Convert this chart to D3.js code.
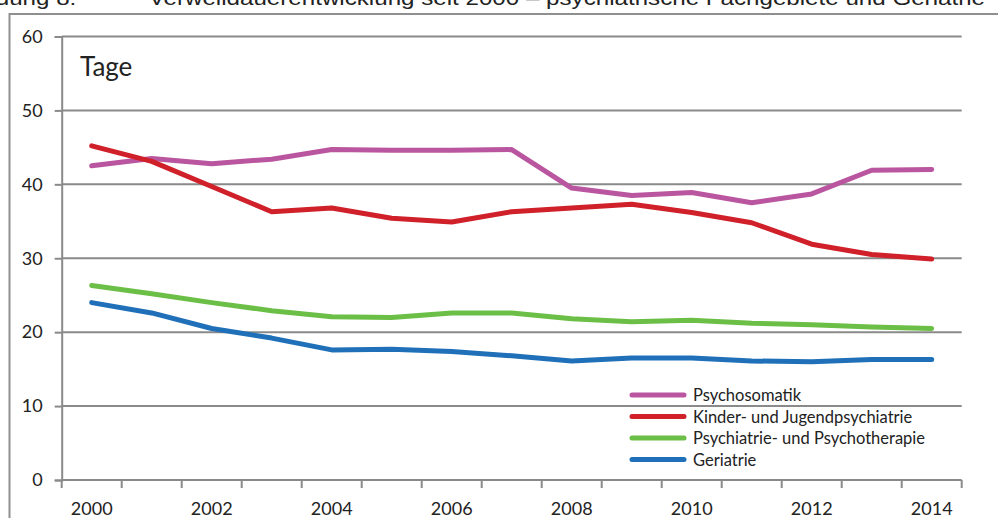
<!DOCTYPE html>
<html><head><meta charset="utf-8">
<script src="https://cdn.jsdelivr.net/npm/d3@7"></script>
<style>
html,body{margin:0;padding:0;background:#fff;}
svg{display:block;}
</style></head>
<body>
<svg id="c" width="998" height="518"></svg>
<script>
const years = [2000,2001,2002,2003,2004,2005,2006,2007,2008,2009,2010,2011,2012,2013,2014];
const tickLabels = ["2000","2002","2004","2006","2008","2010","2012","2014"];
const yTicks = [0,10,20,30,40,50,60];
const seriesNames = ["Psychosomatik","Kinder- und Jugendpsychiatrie","Psychiatrie- und Psychotherapie","Geriatrie"];
const seriesColors = ["#BA559F","#D0202A","#6CBF46","#1F70B8"];
const psychosomatik = [42.5,43.5,42.8,43.4,44.7,44.6,44.6,44.7,39.5,38.5,38.9,37.5,38.7,41.9,42.0];
const kinderJugend = [45.2,43.1,39.7,36.3,36.8,35.4,34.9,36.3,36.8,37.3,36.2,34.8,31.9,30.5,29.9];
const psychiatrie = [26.3,25.2,24.0,22.9,22.1,22.0,22.6,22.6,21.8,21.4,21.6,21.2,21.0,20.7,20.5];
const geriatrie = [24.0,22.6,20.5,19.2,17.6,17.7,17.4,16.8,16.1,16.5,16.5,16.1,16.0,16.3,16.3];
const seriesValues = [psychosomatik,kinderJugend,psychiatrie,geriatrie];
const titleText = "Abbildung 8:\u2003\u2003\u2003Verweildauerentwicklung seit 2000 \u2013 psychiatrische Fachgebiete und Geriatrie";
const unitLabel = "Tage";

const svg = d3.select("#c");
const font = "Lato, 'Open Sans', sans-serif";
const L = 61.7, R = 961.7, T = 36.5, B = 480;
const grid = "#8a8a8a";

// Title (cut at top) and frame
svg.append("text").attr("x",-58).attr("y",5).attr("font-family","'Liberation Sans', Arial, sans-serif")
  .attr("font-size",20).attr("fill","#222").attr("textLength",1043).attr("lengthAdjust","spacingAndGlyphs").text(titleText);
svg.append("line").attr("x1",9).attr("x2",998).attr("y1",14).attr("y2",14).attr("stroke","#8f8f8f").attr("stroke-width",2);
svg.append("line").attr("x1",9.5).attr("x2",9.5).attr("y1",13).attr("y2",518).attr("stroke","#8f8f8f").attr("stroke-width",2);

const x = d3.scaleBand().domain(years).range([L,R]);
const y = d3.scaleLinear().domain([0,60]).range([B,T]);

// gridlines
svg.append("g").selectAll("line").data(yTicks.filter(d=>d>0)).join("line")
  .attr("x1",L).attr("x2",R).attr("y1",d=>y(d)).attr("y2",d=>y(d))
  .attr("stroke",grid).attr("stroke-width",2);

// y axis
const yAxis = svg.append("g").attr("transform",`translate(${L},0)`)
  .call(d3.axisLeft(y).tickValues(yTicks).tickSize(7).tickPadding(12).tickFormat(d3.format("d")));
yAxis.select(".domain").attr("stroke",grid).attr("stroke-width",2);
yAxis.selectAll(".tick line").attr("stroke",grid).attr("stroke-width",2);
yAxis.selectAll("text").attr("font-family",font).attr("font-size",18).attr("fill","#222");

// x axis: ticks at category boundaries
const xAxisG = svg.append("g").attr("transform",`translate(0,${B})`);
xAxisG.append("line").attr("x1",L).attr("x2",R).attr("y1",0).attr("y2",0).attr("stroke",grid).attr("stroke-width",2);
const bounds = years.map(d=>x(d)).concat([x(years[years.length-1])+x.bandwidth()]);
xAxisG.selectAll("line.t").data(bounds).join("line").attr("class","t")
  .attr("x1",d=>d).attr("x2",d=>d).attr("y1",0).attr("y2",8).attr("stroke",grid).attr("stroke-width",2);
xAxisG.selectAll("text").data(tickLabels).join("text")
  .attr("x",d=>x(+d)+x.bandwidth()/2).attr("y",35).attr("text-anchor","middle")
  .attr("font-family",font).attr("font-size",18).attr("fill","#222").text(d=>d);

// unit label
svg.append("text").attr("x",80).attr("y",76).attr("font-family",font).attr("font-size",26).attr("fill","#222").text(unitLabel);

// lines
const line = d3.line().x((d,i)=>x(years[i])+x.bandwidth()/2).y(d=>y(d));
seriesValues.forEach((vals,k)=>{
  svg.append("path").datum(vals).attr("d",line).attr("fill","none")
    .attr("stroke",seriesColors[k]).attr("stroke-width",5).attr("stroke-linecap","round").attr("stroke-linejoin","round");
});

// legend
const lg = svg.append("g");
seriesNames.forEach((n,k)=>{
  const yy = 395 + k*21.5;
  lg.append("line").attr("x1",632).attr("x2",684).attr("y1",yy).attr("y2",yy)
    .attr("stroke",seriesColors[k]).attr("stroke-width",5).attr("stroke-linecap","round");
  lg.append("text").attr("x",693).attr("y",yy+6).attr("font-family",font).attr("font-size",16.5).attr("fill","#222").text(n);
});
</script>
</body></html>
